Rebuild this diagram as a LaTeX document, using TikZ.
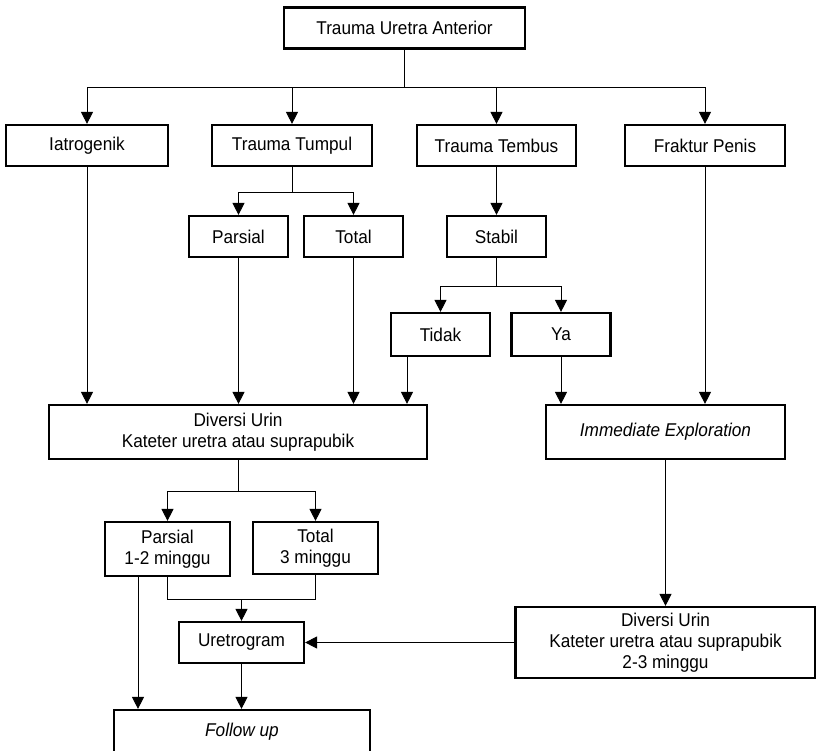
\documentclass[tikz,border=0pt]{standalone}
\usepackage{fontspec}
\setmainfont{Liberation Sans}[FakeStretch=0.93]
\usetikzlibrary{arrows.meta}
\begin{document}
\begin{tikzpicture}[x=1pt,y=-1pt,
  box/.style={draw,line width=2.2pt,inner sep=0pt,align=center,font=\fontsize{18.5}{21}\selectfont},
  conn/.style={line width=1pt},
  arr/.style={conn,-{Triangle[length=12pt,width=12pt]}}]
\useasboundingbox (0,0) rectangle (816,750);
\clip (0,0) rectangle (816,750);
% nodes
\node[box,minimum width=241pt,minimum height=41pt] (top) at (404.5,28) {Trauma Uretra Anterior};
\node[box,minimum width=162pt,minimum height=41pt] (iat) at (87,145.5) {Iatrogenik};
\node[box,minimum width=160pt,minimum height=41pt] (tum) at (292,145.5) {Trauma Tumpul};
\node[box,minimum width=159pt,minimum height=41pt] (tem) at (496.5,145.5) {Trauma Tembus};
\node[box,minimum width=160pt,minimum height=41pt] (fra) at (705,145.5) {Fraktur Penis};
\node[box,minimum width=99pt,minimum height=41pt] (par) at (238.5,236.5) {Parsial};
\node[box,minimum width=99pt,minimum height=41pt] (tot) at (353.5,236.5) {Total};
\node[box,minimum width=99pt,minimum height=41pt] (sta) at (496.5,236.5) {Stabil};
\node[box,minimum width=99pt,minimum height=43pt] (tid) at (440.5,334.5) {Tidak};
\node[box,minimum width=99pt,minimum height=43pt] (ya) at (561,334.5) {Ya};
\node[box,minimum width=378pt,minimum height=54pt] (div1) at (238,432) {Diversi Urin\\Kateter uretra atau suprapubik};
\node[box,minimum width=239pt,minimum height=54pt] (imm) at (665.5,432) {\itshape Immediate Exploration};
\node[box,minimum width=125pt,minimum height=54pt] (p2) at (167.5,549) {Parsial\\1-2 minggu};
\node[box,minimum width=125pt,minimum height=52pt] (t2) at (315.5,548) {Total\\3 minggu};
\node[box,minimum width=125pt,minimum height=41pt] (uret) at (241.5,642.5) {Uretrogram};
\node[box,minimum width=300pt,minimum height=71pt] (div2) at (665.5,642.5) {Diversi Urin\\Kateter uretra atau suprapubik\\2-3 minggu};
\node[box,minimum width=256pt,minimum height=44pt] (fol) at (242,732) {\itshape Follow up};
% helper coordinates
\coordinate (h1) at (0,87);
\coordinate (h2) at (0,192);
\coordinate (h3) at (0,286);
\coordinate (h4) at (0,491);
\coordinate (h5) at (0,599);
\coordinate (tx) at (407,0);
\coordinate (px) at (138,0);
% connectors
\draw[conn,line width=1.8pt] (top.south) -- (top.south |- h1);
\draw[conn] (iat.north |- h1) -- (fra.north |- h1);
\foreach \n in {iat,tum,tem,fra} \draw[arr] (\n.north |- h1) -- (\n.north);
\draw[conn] (tum.south) -- (tum.south |- h2);
\draw[conn] (par.north |- h2) -- (tot.north |- h2);
\foreach \n in {par,tot} \draw[arr] (\n.north |- h2) -- (\n.north);
\draw[arr] (tem.south) -- (sta.north);
\draw[conn] (sta.south) -- (sta.south |- h3);
\draw[conn] (tid.north |- h3) -- (ya.north |- h3);
\foreach \n in {tid,ya} \draw[arr] (\n.north |- h3) -- (\n.north);
\foreach \n in {iat,par,tot} \draw[arr] (\n.south) -- (\n.south |- div1.north);
\draw[arr] (tid.south -| tx) -- (div1.north -| tx);
\foreach \n in {ya,fra} \draw[arr] (\n.south) -- (\n.south |- imm.north);
\draw[conn] (div1.south) -- (div1.south |- h4);
\draw[conn] (p2.north |- h4) -- (t2.north |- h4);
\foreach \n in {p2,t2} \draw[arr] (\n.north |- h4) -- (\n.north);
\draw[arr] (p2.south -| px) -- (fol.north -| px);
\draw[conn] (p2.south) -- (p2.south |- h5) -- (t2.south |- h5) -- (t2.south);
\draw[arr] (uret.north |- h5) -- (uret.north);
\draw[arr] (imm.south) -- (imm.south |- div2.north);
\draw[arr] (div2.west) -- (uret.east);
\draw[arr] (uret.south) -- (uret.south |- fol.north);
\end{tikzpicture}
\end{document}
